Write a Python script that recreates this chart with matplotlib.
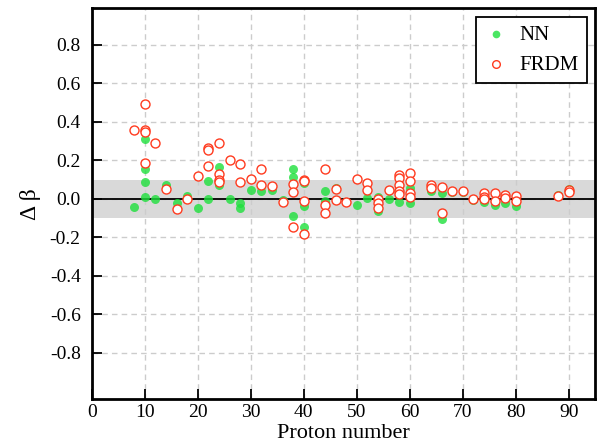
import matplotlib
matplotlib.use("Agg")
import matplotlib.pyplot as plt

# proton number / delta beta, NN model
nn_z = [8, 10, 10, 10, 10, 12, 14, 16, 18, 20, 22, 22, 24, 24, 26, 28, 28,
        30, 32, 34, 36, 38, 38, 38, 40, 40, 40, 44, 44, 46, 50, 52, 54, 54,
        56, 58, 58, 60, 60, 64, 66, 66, 68, 70, 72, 74, 76, 78, 80, 88, 90]
nn_db = [-0.04, 0.31, 0.157, 0.09, 0.01, 0.0, 0.07, -0.02, 0.015, -0.045,
         0.095, 0.0, 0.168, 0.075, 0.0, -0.02, -0.045,
         0.045, 0.04, 0.045, -0.005, 0.155, 0.115, -0.09, 0.085, -0.035, -0.145,
         0.04, -0.01, 0.055, -0.03, 0.005, -0.06, 0.01,
         0.0, -0.015, 0.04, 0.055, -0.02, 0.04, 0.03, -0.105, 0.035, 0.035,
         -0.005, -0.014, -0.03, -0.022, -0.036, 0.02, 0.05]

# FRDM
frdm_z = [8, 10, 10, 10, 10, 12, 14, 16, 18, 20, 22, 22, 22, 24, 24, 24, 24,
          26, 28, 28, 30, 32, 32, 34, 36, 38, 38, 38, 40, 40, 40, 40,
          44, 44, 44, 46, 46, 48, 50, 52, 52, 54, 54, 54, 56,
          58, 58, 58, 58, 58, 60, 60, 60, 60, 64, 64, 66, 66, 68, 70, 72,
          74, 74, 74, 76, 76, 78, 78, 80, 80, 88, 90, 90]
frdm_db = [0.36, 0.495, 0.36, 0.35, 0.185, 0.29, 0.05, -0.05, 0.0, 0.12,
           0.265, 0.255, 0.17, 0.29, 0.13, 0.10, 0.09,
           0.2, 0.18, 0.09, 0.105, 0.155, 0.07, 0.065, -0.015, 0.08, 0.035, -0.145,
           0.10, 0.093, -0.01, -0.18,
           0.155, -0.03, -0.075, 0.05, -0.005, -0.015, 0.105, 0.085, 0.045,
           0.0, -0.02, -0.045, 0.045,
           0.125, 0.107, 0.073, 0.043, 0.026, 0.137, 0.093, 0.03, 0.009,
           0.07, 0.055, 0.06, -0.075, 0.04, 0.04, 0.0,
           0.033, 0.009, 0.0, 0.033, -0.009, 0.02, 0.003, 0.015, -0.01,
           0.015, 0.047, 0.035]

plt.rcParams['font.family'] = ['Liberation Serif', 'DejaVu Serif']

fig = plt.figure(figsize=(6.08, 4.43), dpi=100)
ax = fig.add_axes([0.151, 0.099, 0.828, 0.882])

ax.axhspan(-0.1, 0.1, color='#d9d9d9', zorder=0.5, lw=0)
ax.axhline(0, color='black', lw=1.3, zorder=1.5)

ax.scatter(nn_z, nn_db, s=42, color='#1ee03c', alpha=0.8, lw=0,
           label='NN', zorder=3)
ax.scatter(frdm_z, frdm_db, s=42, facecolor='white', edgecolor='#ff3b1f',
           lw=1.0, label='FRDM', zorder=4)

ax.set_xlim(0, 95)
ax.set_ylim(-1.04, 0.99)
ax.set_xticks(range(0, 91, 10))
ax.set_yticks([-0.8, -0.6, -0.4, -0.2, 0.0, 0.2, 0.4, 0.6, 0.8])
ax.yaxis.set_major_formatter(matplotlib.ticker.FormatStrFormatter('%.1f'))

ax.grid(True, ls=(0, (4, 3)), color='#cccccc', lw=1.0, zorder=1)
ax.set_axisbelow(True)

ax.tick_params(direction='in', length=7, width=1.3, labelsize=14)
ax.tick_params(axis='y', pad=8)
for sp in ax.spines.values():
    sp.set_linewidth(2)

ax.set_xlabel('Proton number', fontsize=16, labelpad=2)
ax.set_ylabel('Δ β', fontsize=17, labelpad=6)

leg = ax.legend(loc='upper right', fontsize=15, fancybox=False,
                edgecolor='black', framealpha=1, borderpad=0.4,
                handlelength=1.2, handletextpad=0.5, markerscale=0.85,
                borderaxespad=0.4)
leg.get_frame().set_linewidth(1.3)

plt.savefig('out.png', dpi=100)
